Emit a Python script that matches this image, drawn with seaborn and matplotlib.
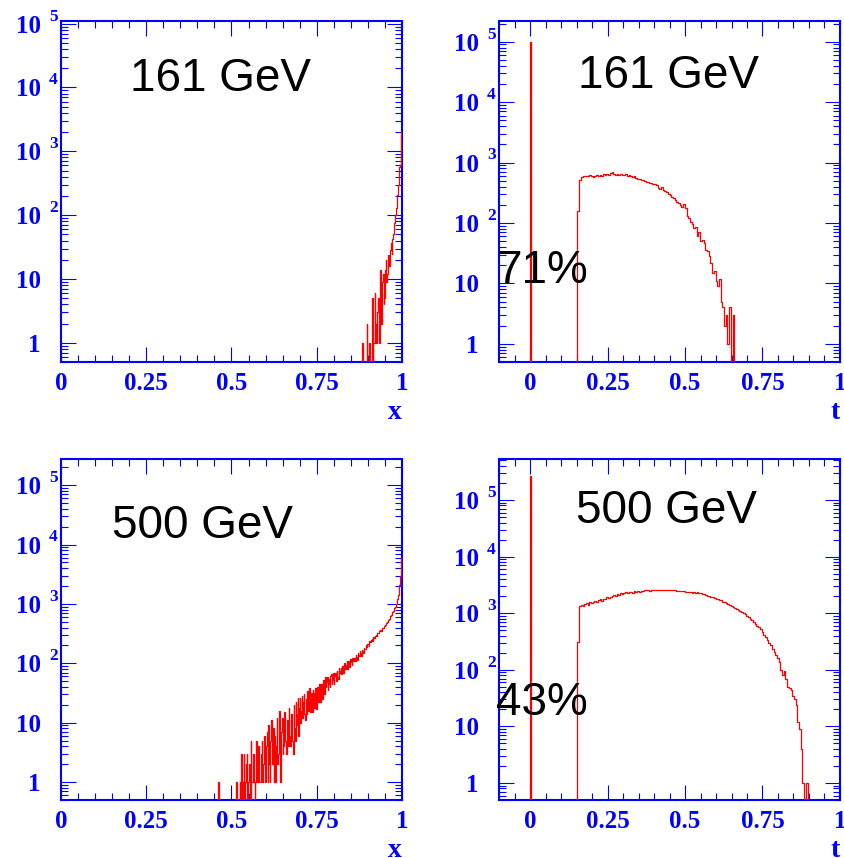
import numpy as np
import pandas as pd
import matplotlib
matplotlib.use("Agg")
import matplotlib.pyplot as plt
import seaborn as sns
from matplotlib.ticker import FixedLocator, LogLocator, NullFormatter, MultipleLocator

# ---- x spectra: 500 bins on [0, 1], counts from the first listed bin up to x = 1
x_nbins = 500
x_first_161 = 0.880
x_counts_161 = [0, 0, 1, 0, 0, 0, 0, 0, 2, 0,
                0, 0, 1, 0, 0, 0, 5, 0, 1, 1,
                6, 1, 2, 1, 3, 5, 1, 1, 14, 2,
                3, 9, 12, 4, 5, 14, 20, 9, 12, 18,
                24, 16, 20, 28, 36, 25, 42, 50, 60, 75,
                100, 130, 180, 210, 300, 350, 560, 600, 1100, 2000]
x_first_500 = 0.460
x_counts_500 = [1, 0, 0, 0, 0, 0, 0, 0, 0, 0,
                0, 0, 0, 0, 0, 0, 0, 0, 0, 0,
                0, 0, 0, 0, 0, 0, 0, 1, 0, 0,
                0, 0, 1, 0, 3, 1, 0, 1, 3, 0,
                1, 2, 3, 0, 1, 1, 2, 0, 5, 1,
                1, 3, 3, 1, 0, 1, 5, 2, 1, 4,
                4, 1, 1, 3, 5, 1, 2, 6, 6, 1,
                1, 4, 7, 1, 9, 2, 1, 5, 11, 3,
                2, 8, 1, 6, 1, 4, 12, 2, 3, 9,
                16, 1, 2, 7, 12, 3, 4, 15, 8, 5,
                3, 10, 11, 4, 18, 6, 4, 14, 9, 5,
                3, 20, 8, 5, 22, 9, 14, 26, 6, 18,
                26, 10, 16, 28, 12, 22, 30, 14, 11, 25,
                14, 34, 16, 24, 38, 15, 20, 32, 15, 36,
                32, 18, 26, 38, 17, 30, 40, 22, 28, 45,
                22, 45, 30, 25, 52, 35, 30, 58, 40, 48,
                58, 35, 45, 55, 40, 62, 66, 45, 52, 70,
                45, 62, 70, 50, 75, 58, 55, 82, 68, 74,
                82, 65, 90, 78, 70, 100, 85, 80, 95, 110,
                80, 110, 100, 88, 120, 105, 95, 125, 110, 118,
                125, 110, 140, 128, 115, 150, 138, 135, 160, 150,
                135, 165, 160, 150, 180, 172, 175, 200, 190, 210,
                215, 195, 235, 225, 250, 240, 255, 240, 280, 270,
                280, 290, 300, 290, 330, 320, 345, 350, 360, 355,
                360, 390, 400, 410, 420, 440, 460, 480, 500, 520,
                540, 565, 590, 620, 650, 690, 720, 760, 800, 850,
                900, 980, 1050, 1200, 1400, 1700, 2100, 2800, 4000, 5900]

# ---- t spectra: 200 bins on [-0.1, 1], spike at t = 0 plus continuum from t = 0.153
t_range = (-0.1, 1.0)
t_nbins = 200
t_spike = {"161 GeV": 1.0e5, "500 GeV": 2.65e5}
t_first = 0.153
t_counts_161 = [160, 520, 570, 600, 590, 610, 600, 620, 590, 580,
                610, 620, 600, 630, 610, 640, 620, 650, 630, 680,
                710, 650, 630, 640, 620, 640, 630, 620, 640, 600,
                620, 610, 580, 600, 560, 540, 530, 510, 505, 500,
                480, 470, 465, 455, 445, 440, 420, 380, 370, 390,
                350, 335, 320, 300, 290, 270, 255, 240, 225, 215,
                200, 185, 205, 180, 130, 120, 105, 95, 82, 85,
                62, 70, 50, 52, 46, 36, 35, 28, 22, 15,
                16, 11, 9, 12, 5, 4, 2, 3, 1, 4,
                0, 3]
t_counts_500 = [315, 1340, 1400, 1350, 1450, 1500, 1420, 1550, 1500, 1600,
                1650, 1580, 1700, 1750, 1650, 1800, 1750, 1900, 1850, 1950,
                2000, 2100, 2050, 2150, 2100, 2250, 2200, 2300, 2350, 2300,
                2350, 2400, 2300, 2450, 2400, 2450, 2400, 2500, 2450, 2550,
                2550, 2600, 2500, 2600, 2550, 2600, 2550, 2600, 2600, 2550,
                2600, 2600, 2550, 2550, 2600, 2550, 2550, 2600, 2500, 2500,
                2450, 2450, 2450, 2400, 2400, 2350, 2400, 2300, 2350, 2300,
                2350, 2250, 2300, 2200, 2150, 2100, 2050, 2050, 1950, 1950,
                1850, 1800, 1800, 1700, 1700, 1600, 1550, 1500, 1450, 1400,
                1350, 1300, 1250, 1200, 1150, 1100, 1050, 1000, 950, 900,
                850, 800, 760, 700, 640, 600, 560, 520, 470, 420,
                380, 340, 300, 270, 230, 210, 185, 160, 140, 100,
                82, 95, 70, 50, 47, 44, 35, 30, 24, 12,
                9, 4, 1, 0, 1]

energies = ["161 GeV", "500 GeV"]
fractions = ["71%", "43%"]
x_tick_vals = [0, 0.25, 0.5, 0.75, 1]
x_tick_labels = ["0", "0.25", "0.5", "0.75", "1"]
y_exponents = [0, 1, 2, 3, 4, 5]
y_tick_labels = ["1", "10", "10", "10", "10", "10"]
y_limits = {(0, 0): (0.5, 1.1e5), (0, 1): (0.5, 2.2e5),
            (1, 0): (0.5, 2.75e5), (1, 1): (0.5, 5.3e5)}

BLUE = "#0000ff"

sns.set_style("ticks")
plt.rcParams["font.family"] = ["Liberation Serif", "DejaVu Serif"]
plt.rcParams["font.weight"] = "bold"


def fill_counts(nbins, lo, width, first, values):
    counts = np.zeros(nbins)
    i0 = int(round((first - lo) / width))
    counts[i0:i0 + len(values)] = values
    return counts


def draw_hist(ax, edges, counts):
    df = pd.DataFrame({"pos": 0.5 * (edges[:-1] + edges[1:]), "n": counts})
    sns.histplot(data=df, x="pos", weights="n", bins=list(edges), element="step",
                 fill=False, color="red", linewidth=0.9, zorder=3, ax=ax)


def style_axes(ax, xlim, ylim, xlabel):
    ax.set_yscale("log")
    ax.set_xlim(*xlim)
    ax.set_ylim(*ylim)
    ax.xaxis.set_major_locator(FixedLocator(x_tick_vals))
    ax.set_xticklabels(x_tick_labels)
    ax.xaxis.set_minor_locator(MultipleLocator(0.05))
    ax.yaxis.set_major_locator(FixedLocator([10.0 ** e for e in y_exponents]))
    ax.set_yticklabels(y_tick_labels)
    ax.yaxis.set_minor_locator(LogLocator(base=10, subs=np.arange(2, 10), numticks=20))
    ax.yaxis.set_minor_formatter(NullFormatter())
    ax.tick_params(which="both", direction="in", top=True, right=True,
                   color=BLUE, width=0.8, labelcolor=BLUE, labelsize=18)
    ax.tick_params(which="major", length=11)
    ax.tick_params(which="minor", length=5)
    ax.tick_params(axis="y", which="major", pad=14.5)
    ax.tick_params(axis="x", which="major", pad=7)
    for sp in ax.spines.values():
        sp.set_color(BLUE)
        sp.set_linewidth(1.5)
    for e in y_exponents[2:]:
        ax.annotate(str(e), xy=(0, 10.0 ** e), xycoords=("axes fraction", "data"),
                    xytext=(-2.2, 2.2), textcoords="offset points",
                    ha="right", va="baseline", fontsize=12.5, color=BLUE,
                    annotation_clip=False)
    ax.set_ylabel("")
    ax.set_xlabel(xlabel, loc="right", fontsize=20, fontweight="bold",
                  color=BLUE, labelpad=4)


fig, axes = plt.subplots(2, 2, figsize=(8.44, 8.58), dpi=100)
plt.subplots_adjust(left=61 / 844, right=840 / 844, bottom=1 - 800 / 858,
                    top=1 - 21 / 858, wspace=97 / 341, hspace=97 / 341)

x_edges = np.linspace(0, 1, x_nbins + 1)
x_width = 1.0 / x_nbins
t_edges = np.linspace(t_range[0], t_range[1], t_nbins + 1)
t_width = (t_range[1] - t_range[0]) / t_nbins

x_sets = [(x_first_161, x_counts_161), (x_first_500, x_counts_500)]
t_sets = [t_counts_161, t_counts_500]

name_pos_x = [(0.202, 0.794), (0.149, 0.769)]
name_pos_t = [(0.232, 0.803), (0.226, 0.811)]
frac_pos = [(-0.006, 0.232), (-0.009, 0.249)]

for row, energy in enumerate(energies):
    # left: x spectrum
    ax = axes[row, 0]
    first, vals = x_sets[row]
    draw_hist(ax, x_edges, fill_counts(x_nbins, 0.0, x_width, first, vals))
    style_axes(ax, (0, 1), y_limits[(row, 0)], "x")
    ax.text(*name_pos_x[row], energy, transform=ax.transAxes, fontsize=33,
            family="Liberation Sans", weight="normal", color="black",
            ha="left", va="baseline")

    # right: t spectrum
    ax = axes[row, 1]
    counts = fill_counts(t_nbins, t_range[0], t_width, t_first, t_sets[row])
    counts[int((0.0 - t_range[0]) / t_width)] = t_spike[energy]
    draw_hist(ax, t_edges, counts)
    style_axes(ax, t_range, y_limits[(row, 1)], "t")
    ax.text(*name_pos_t[row], energy, transform=ax.transAxes, fontsize=33,
            family="Liberation Sans", weight="normal", color="black",
            ha="left", va="baseline")
    ax.text(*frac_pos[row], fractions[row], transform=ax.transAxes, fontsize=33,
            family="Liberation Sans", weight="normal", color="black",
            ha="left", va="baseline")

plt.savefig("out.png", dpi=100)
